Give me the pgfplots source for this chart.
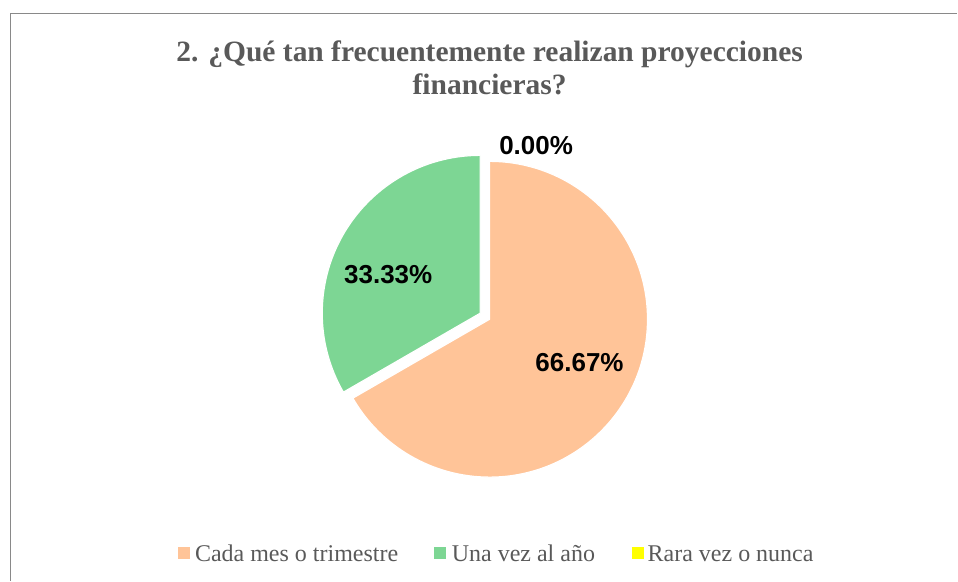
\documentclass[border=0pt]{standalone}
\usepackage{fontspec}
\setmainfont{Liberation Serif}
\newfontfamily\lbl{Liberation Sans}
\usepackage{pgfplots}
\usepackage{pgfplotstable}
\pgfplotsset{compat=1.18}
\definecolor{cmes}{RGB}{255,196,152}
\definecolor{cano}{RGB}{125,214,148}
\definecolor{crara}{RGB}{255,255,0}
\definecolor{txt}{RGB}{89,89,89}
\definecolor{marco}{RGB}{137,137,137}

% porcentajes de cada respuesta
\pgfplotstableread{
cat value
1 66.67
2 33.33
3 0.00
}\piedata

\begin{document}
\begin{tikzpicture}
\pgfplotstablegetelem{0}{value}\of\piedata \let\va\pgfplotsretval
\pgfplotstablegetelem{1}{value}\of\piedata \let\vb\pgfplotsretval
\pgfmathsetmacro\aend{90-3.6*\va}
\pgfmathsetmacro\bend{90+3.6*\vb}
\begin{axis}[
    width=958pt, height=581pt, scale only axis,
    xmin=0, xmax=958, ymin=0, ymax=581,
    hide axis, clip=false,
]
\path (axis cs:0,0) rectangle (axis cs:958,581);
\draw[marco, line width=1.5pt] (axis cs:10.5,0) -- (axis cs:10.5,567.5) -- (axis cs:958,567.5);

% title
\node[anchor=base, inner sep=0pt, text=txt, font=\bfseries\fontsize{29.5}{33}\selectfont]
  at (axis cs:490,519) {2. ¿Qué tan frecuentemente realizan proyecciones};
\node[anchor=base, inner sep=0pt, text=txt, font=\bfseries\fontsize{29.5}{33}\selectfont]
  at (axis cs:490,486) {financieras?};

% slices
\fill[cmes, draw=white, line width=1.2pt] (axis cs:490,261.5) -- (axis cs:490,419.5)
  arc[start angle=90, end angle=\aend, radius=158pt] -- cycle;
\fill[cano, draw=white, line width=1.2pt] (axis cs:480.5,267.5) -- (axis cs:480.5,425.5)
  arc[start angle=90, end angle=\bend, radius=158pt] -- cycle;

% data labels
\node[anchor=base, inner sep=0pt, font=\lbl\bfseries\fontsize{26}{26}\selectfont] at (axis cs:580,209) {66.67\%};
\node[anchor=base, inner sep=0pt, font=\lbl\bfseries\fontsize{26}{26}\selectfont] at (axis cs:388.5,297) {33.33\%};
\node[anchor=base, inner sep=0pt, font=\lbl\bfseries\fontsize{26}{26}\selectfont] at (axis cs:536.5,426) {0.00\%};

% legend
\fill[cmes] (axis cs:178,21.5) rectangle (axis cs:190,33.5);
\node[anchor=base west, inner sep=0pt, text=txt, font=\fontsize{24}{26}\selectfont] at (axis cs:195,19) {Cada mes o trimestre};
\fill[cano] (axis cs:434,21.5) rectangle (axis cs:446,33.5);
\node[anchor=base west, inner sep=0pt, text=txt, font=\fontsize{24}{26}\selectfont] at (axis cs:452,19) {Una vez al año};
\fill[crara] (axis cs:632,21.5) rectangle (axis cs:644,33.5);
\node[anchor=base west, inner sep=0pt, text=txt, font=\fontsize{24}{26}\selectfont] at (axis cs:648,19) {Rara vez o nunca};
\end{axis}
\end{tikzpicture}
\end{document}
